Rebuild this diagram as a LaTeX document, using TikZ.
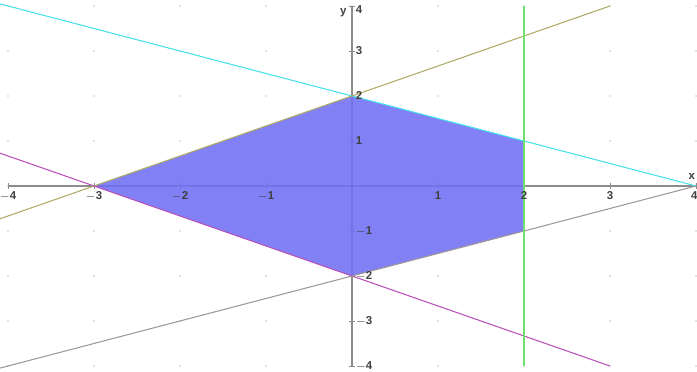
\documentclass[tikz,border=0pt]{standalone}
\usepackage{fontspec}
\setmainfont{Liberation Sans}
\definecolor{regionfill}{RGB}{112,112,244}
\definecolor{cyanline}{RGB}{70,225,235}
\definecolor{oliveline}{RGB}{175,170,100}
\definecolor{magline}{RGB}{185,80,185}
\definecolor{grayline}{RGB}{160,150,150}
\definecolor{greenline}{RGB}{110,225,110}
\definecolor{axiscol}{RGB}{140,140,140}
\begin{document}
\begin{tikzpicture}[x=1.72cm,y=0.9cm,
  ticklab/.style={font=\fontsize{6.5}{7}\selectfont\bfseries, text=black!75, inner sep=1pt},
  plotline/.style={line width=0.6pt}]
\useasboundingbox (-4.093,-4.1333) rectangle (4.0116,4.1333);
% grid dots
\foreach \i in {-4,...,4}{\foreach \j in {-4,...,4}{
  \fill[black!22] (\i,\j) circle (0.5pt);}}
% axes
\draw[axiscol,line width=0.7pt] (-4,0) -- (4,0);
\draw[axiscol,line width=0.7pt] (0,-4) -- (0,4);
\foreach \i in {-4,-3,-2,-1,1,2,3,4}{
  \draw[axiscol] (\i,0.07) -- (\i,-0.07);
  \draw[axiscol] (0.03,\i) -- (-0.03,\i);}
% region
\coordinate (A) at (-3,0);
\coordinate (B) at (0,2);
\coordinate (C) at (2,1);
\coordinate (D) at (2,-1);
\coordinate (E) at (0,-2);
\fill[regionfill,fill opacity=0.88] (A) -- (B) -- (C) -- (D) -- (E) -- cycle;
% lines
\draw[plotline,cyanline] (-4.093,4.0465) -- (4,0);
\draw[plotline,oliveline] (-4.093,-0.7287) -- (3,4);
\draw[plotline,magline] (-4.093,0.7287) -- (3,-4);
\draw[plotline,grayline] (-4.093,-4.0465) -- (4,0);
\draw[plotline,greenline] (2,4) -- (2,-4);
% tick labels
\foreach \i in {-4,-3,-2,-1,1,2,3}{
  \node[ticklab,below] at (\i,-0.07) {\ifnum\i<0 $-$\number-\i\else\i\fi};}
\node[ticklab,below left,xshift=2pt] at (4,-0.07) {4};
\foreach \j in {-4,-3,-2,-1,1,2,3}{
  \node[ticklab,right] at (0.02,\j) {\ifnum\j<0 $-$\number-\j\else\j\fi};}
\node[ticklab,right,yshift=-1pt] at (0.02,3.95) {4};
\node[ticklab] at (-0.1,3.85) {y};
\node[ticklab] at (3.95,0.22) {x};
\end{tikzpicture}
\end{document}
